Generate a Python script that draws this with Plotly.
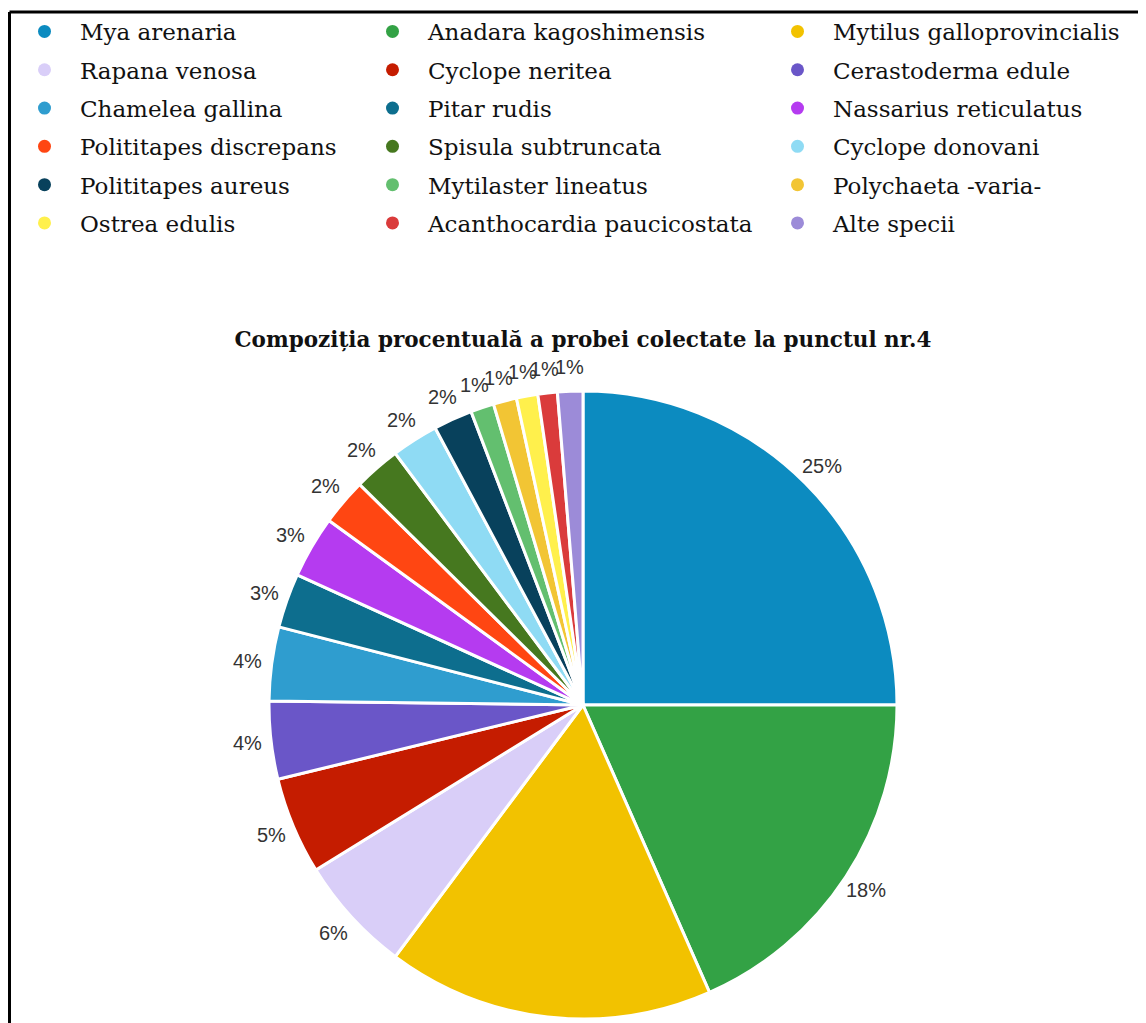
import numpy as np
import plotly.graph_objects as go

# ---- data ----
species = [
    "Mya arenaria", "Anadara kagoshimensis", "Mytilus galloprovincialis",
    "Rapana venosa", "Cyclope neritea", "Cerastoderma edule",
    "Chamelea gallina", "Pitar rudis", "Nassarius reticulatus",
    "Polititapes discrepans", "Spisula subtruncata", "Cyclope donovani",
    "Polititapes aureus", "Mytilaster lineatus", "Polychaeta -varia-",
    "Ostrea edulis", "Acanthocardia paucicostata", "Alte specii",
]
percent_values = [25.0, 18.4, 16.8, 6.0, 5.0, 4.0, 3.8, 2.8, 3.2,
                  2.4, 2.4, 2.4, 2.0, 1.2, 1.2, 1.1, 1.0, 1.3]
colors = [
    "#0C8BC0", "#33A245", "#F2C200",
    "#D9CEF8", "#C51C00", "#6A56C8",
    "#2F9DCF", "#0D6E8E", "#B53BF0",
    "#FF4612", "#46781F", "#8FDBF4",
    "#08415C", "#63BF6F", "#F2C534",
    "#FFF04C", "#DA3B3B", "#9C8BD8",
]
title_text = "Compoziția procentuală a probei colectate la punctul nr.4"

W, H = 1146, 1023
OFF = 8  # page body margin


def px_x(p):
    return (p - OFF) / W


def px_y(p):
    return 1 - (p - OFF) / H


# pie geometry (page pixels)
CX, CY, R = 583, 705, 314
LABEL_R = 338

fig = go.Figure()

fig.add_trace(go.Pie(
    labels=species, values=percent_values, sort=False,
    direction="clockwise", rotation=0,
    marker=dict(colors=colors, line=dict(color="white", width=3)),
    textinfo="none", textposition="none",
    showlegend=False,
    domain=dict(x=[px_x(CX - R), px_x(CX + R)], y=[px_y(CY + R), px_y(CY - R)]),
    hoverinfo="label+percent",
))

# percentage labels placed just outside each slice, at its mid-angle
vals = np.array(percent_values, dtype=float)
frac = vals / vals.sum()
mid = (np.cumsum(frac) - frac / 2) * 2 * np.pi
annotations = []
for f, a in zip(frac, mid):
    lx = CX + LABEL_R * np.sin(a)
    ly = CY - LABEL_R * np.cos(a)
    if ly + 10 > H:  # label falls below the visible canvas (cropped in the reference)
        continue
    annotations.append(dict(
        x=px_x(lx), y=px_y(ly), xref="paper", yref="paper",
        text=f"{round(f * 100):.0f}%", showarrow=False,
        xanchor="center", yanchor="middle",
        font=dict(family="Liberation Sans, Arial, sans-serif", size=20, color="#333333"),
    ))

# legend entries (three columns, circle markers)
legend_names = ["legend", "legend2", "legend3"]
for i, (name, col) in enumerate(zip(species, colors)):
    fig.add_trace(go.Scatter(
        x=[None], y=[None], mode="markers", name=name,
        marker=dict(color=col, size=13, symbol="circle"),
        legend=legend_names[i % 3], legendgroup=name,
        showlegend=True, hoverinfo="skip",
    ))

leg_font = dict(family="DejaVu Serif, Liberation Serif, serif", size=23, color="#111111")
col_x = [9, 357, 762]
legend_common = dict(
    font=leg_font, orientation="v", yanchor="top", xanchor="left",
    y=px_y(10), traceorder="grouped", tracegroupgap=5.4, itemwidth=61,
    bgcolor="rgba(0,0,0,0)", itemclick=False, itemdoubleclick=False,
)
layout_legends = {}
for ln, cx in zip(legend_names, col_x):
    layout_legends[ln] = dict(legend_common, x=px_x(cx))

fig.update_layout(
    width=W, height=H,
    margin=dict(l=0, r=0, t=0, b=0),
    paper_bgcolor="white", plot_bgcolor="white",
    xaxis=dict(visible=False), yaxis=dict(visible=False),
    title=dict(text="<b>" + title_text + "</b>", x=px_x(583), xanchor="center",
               y=px_y(339), yanchor="middle",
               font=dict(family="DejaVu Serif, Liberation Serif, serif", size=21.5, color="#111111")),
    annotations=annotations,
    shapes=[
        dict(type="line", xref="paper", yref="paper", x0=px_x(9.5), x1=1.0,
             y0=px_y(12), y1=px_y(12), line=dict(color="black", width=3)),
        dict(type="line", xref="paper", yref="paper", x0=px_x(9.5), x1=px_x(9.5),
             y0=px_y(12), y1=0, line=dict(color="black", width=3)),
    ],
    **layout_legends,
)

fig.write_html("out.html")
